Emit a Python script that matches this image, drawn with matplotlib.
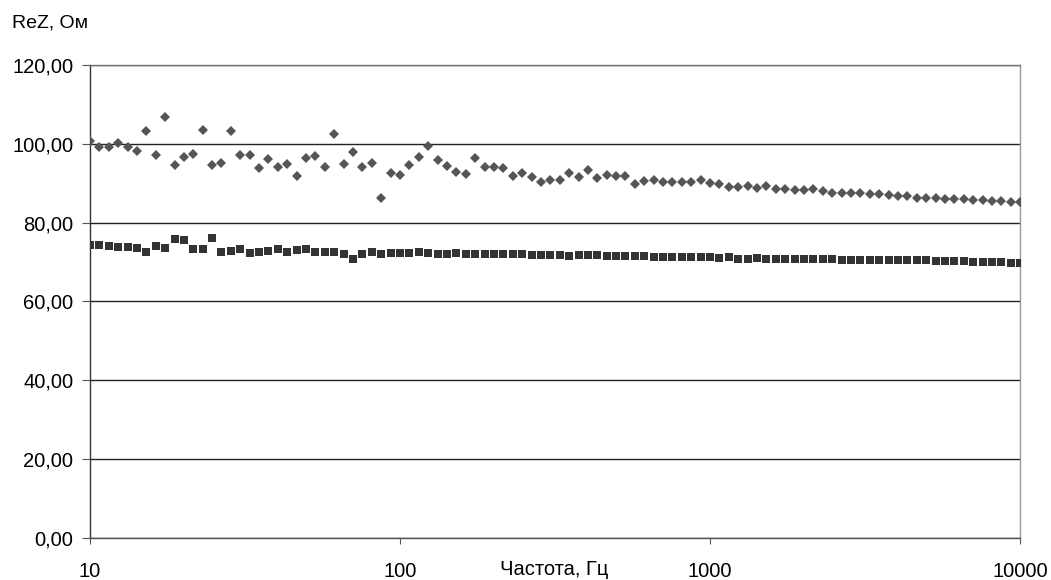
import numpy as np
import matplotlib.pyplot as plt

plt.rcParams['font.family'] = ['Liberation Sans', 'DejaVu Sans']

# 100 точек, логарифмически равномерно от 10 Гц до 10 кГц
freq = np.logspace(1, 4, 100)

# верхняя серия (ромбы)
rez_1 = [
    100.6, 99.1, 99.1, 100.1, 99.2, 98.2, 103.3, 97.2, 106.9, 94.6,
    96.6, 97.4, 103.6, 94.5, 95.2, 103.2, 97.2, 97.1, 93.9, 96.1,
    94.0, 94.8, 91.8, 96.3, 96.9, 94.2, 102.4, 94.8, 97.9, 94.1,
    95.1, 86.2, 92.5, 92.0, 94.5, 96.7, 99.5, 95.8, 94.3, 92.8,
    92.3, 96.4, 94.1, 94.1, 93.8, 91.9, 92.5, 91.7, 90.2, 90.9,
    90.9, 92.6, 91.5, 93.4, 91.2, 92.1, 91.8, 91.8, 89.8, 90.6,
    90.7, 90.2, 90.3, 90.2, 90.3, 90.7, 90.1, 89.9, 89.1, 89.0,
    89.2, 88.9, 89.3, 88.5, 88.5, 88.2, 88.3, 88.5, 88.1, 87.6,
    87.6, 87.4, 87.4, 87.3, 87.2, 87.0, 86.8, 86.8, 86.3, 86.3,
    86.2, 86.0, 86.0, 85.9, 85.7, 85.7, 85.5, 85.5, 85.2, 85.2,
]

# нижняя серия (квадраты)
rez_2 = [
    74.3, 74.3, 74.0, 73.9, 73.9, 73.6, 72.5, 74.1, 73.6, 75.8,
    75.5, 73.3, 73.3, 76.0, 72.5, 72.9, 73.2, 72.2, 72.5, 72.9,
    73.3, 72.5, 73.0, 73.3, 72.6, 72.6, 72.5, 72.1, 70.8, 72.0,
    72.5, 72.0, 72.4, 72.4, 72.4, 72.6, 72.4, 72.0, 72.1, 72.2,
    72.0, 72.1, 72.0, 72.0, 72.1, 72.0, 72.0, 71.9, 71.7, 71.7,
    71.9, 71.5, 71.8, 71.7, 71.7, 71.5, 71.6, 71.5, 71.5, 71.6,
    71.3, 71.3, 71.4, 71.3, 71.3, 71.3, 71.2, 71.0, 71.3, 70.8,
    70.9, 71.0, 70.9, 70.8, 70.9, 70.8, 70.8, 70.8, 70.8, 70.7,
    70.6, 70.6, 70.6, 70.6, 70.5, 70.5, 70.5, 70.4, 70.4, 70.4,
    70.3, 70.3, 70.3, 70.2, 70.1, 70.1, 70.1, 70.0, 69.8, 69.8,
]

y_ticks = [0, 20, 40, 60, 80, 100, 120]
x_ticks = [10, 100, 1000, 10000]

fig = plt.figure(figsize=(10.51, 5.8), dpi=100)
ax = fig.add_axes([0.0856, 0.0724, 0.885, 0.8156])

ax.plot(freq, rez_1, linestyle='none', marker='D', markersize=5.6,
        color='#555555', markeredgewidth=0, zorder=3)
ax.plot(freq, rez_2, linestyle='none', marker='s', markersize=6.3,
        color='#333333', markeredgewidth=0, zorder=3)

ax.set_xscale('log')
ax.set_xlim(10, 10000)
ax.set_ylim(0, 120)
ax.set_yticks(y_ticks)
ax.set_yticklabels([('%.2f' % v).replace('.', ',') for v in y_ticks])
ax.set_xticks(x_ticks)
ax.set_xticklabels([str(v) for v in x_ticks])
ax.minorticks_off()

ax.yaxis.grid(True, color='#222222', linewidth=1.0)
ax.set_axisbelow(True)
ax.spines['left'].set_color('#333333')
ax.spines['bottom'].set_color('#555555')
ax.spines['top'].set_color('#777777')
ax.spines['right'].set_color('#999999')
for s in ax.spines.values():
    s.set_linewidth(1.0)

ax.tick_params(axis='y', length=6, pad=6, labelsize=14.5, color='#555555')
ax.tick_params(axis='x', length=4, pad=13, labelsize=14.5, color='#555555')

fig.text(0.011, 0.952, 'ReZ, Ом', fontsize=14, ha='left', va='baseline')
fig.text(0.527, 0.009, 'Частота, Гц', fontsize=14.5, ha='center', va='baseline')

fig.savefig('out.png', dpi=100, facecolor='white')
